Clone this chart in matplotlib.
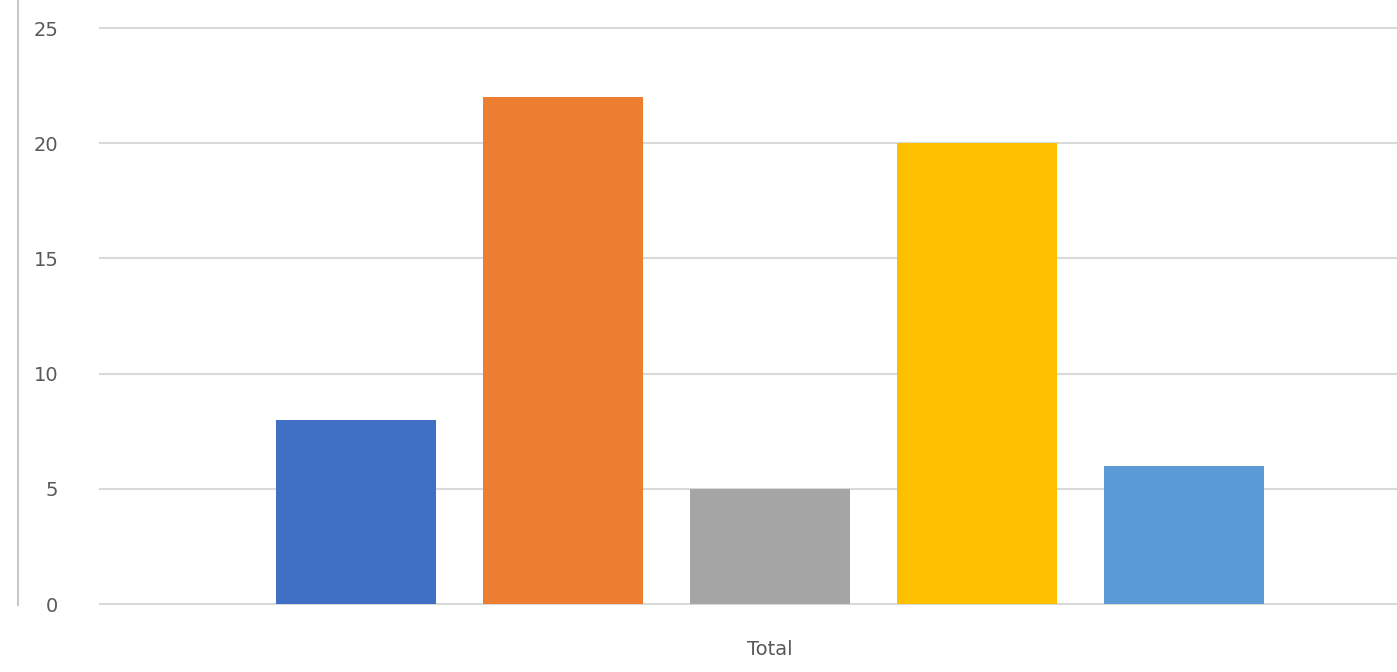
import matplotlib
matplotlib.use("Agg")
import matplotlib.pyplot as plt
from matplotlib.lines import Line2D
import numpy as np

categories = ["Total"]
series_names = ["A", "B", "C", "D", "E"]
values = [8, 22, 5, 20, 6]
colors = ["#4070C6", "#ED7D31", "#A5A5A5", "#FFC000", "#5B9BD5"]
yticks = [0, 5, 10, 15, 20, 25]

W, H = 1397, 672
fig = plt.figure(figsize=(W / 100, H / 100), dpi=100)
left_px, right_px, top_px, bottom_px = 100, 1440, 28, 604
ax = fig.add_axes([left_px / W, (H - bottom_px) / H,
                   (right_px - left_px) / W, (bottom_px - top_px) / H])

spacing = 0.1545
width = 0.12
n = len(values)
for i, (v, c) in enumerate(zip(values, colors)):
    ax.bar(0 + (i - (n - 1) / 2) * spacing, v, width=width, color=c, zorder=3, label=series_names[i])

ax.set_xlim(-0.5, 0.5)
ax.set_ylim(0, 25)
ax.set_yticks(yticks)
ax.set_yticklabels([str(t) for t in yticks], color="#595959", fontsize=14)
ax.set_xticks([0])
ax.set_xticklabels(categories, color="#595959", fontsize=14)
ax.tick_params(axis="y", length=0, pad=30)
ax.tick_params(axis="x", length=0, pad=26)
ax.yaxis.grid(True, color="#D9D9D9", linewidth=1.5, zorder=0)
for gl in ax.get_ygridlines():
    gl.set_clip_on(False)
for s in ax.spines.values():
    s.set_visible(False)

fig.add_artist(Line2D([18 / W, 18 / W], [(H - 605) / H, 1.0], color="#C8C8C8", linewidth=1.5))

fig.savefig("out.png", dpi=100)
